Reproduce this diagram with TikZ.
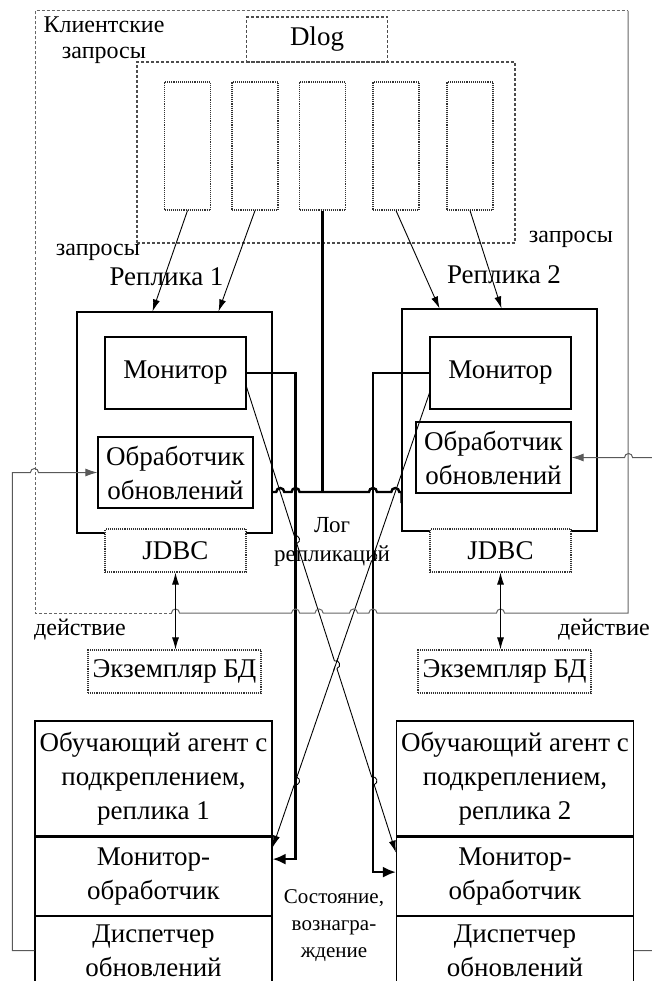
\documentclass[tikz,border=0pt]{standalone}
\usepackage{fontspec}
\setmainfont{Liberation Serif}
\usetikzlibrary{arrows.meta,positioning,calc,intersections}

\begin{document}
\begin{tikzpicture}[
    x=1pt, y=-1pt,
    % Block styles
    block/.style={
        rectangle,
        draw,
        line width=1.1pt,
        inner sep=0pt,
        align=center,
        font=\fontsize{27}{34}\selectfont
    },
    dotblock/.style={block, draw=black!80, densely dotted, fill=white},
    dashblock/.style={block, draw=black!70, dash pattern=on 3pt off 2pt},
    note/.style={font=\fontsize{24}{26}\selectfont, align=center},
    heading/.style={font=\fontsize{27}{34}\selectfont},
    % Line styles
    reqline/.style={line width=0.9pt, -{Latex[length=12pt,width=7pt]}},
    dbline/.style={line width=0.9pt, {Latex[length=12pt,width=7pt]}-{Latex[length=12pt,width=7pt]}},
    logline/.style={line width=2.4pt},
    stateline/.style={line width=2.4pt, -{Latex[length=13pt,width=11pt]}},
    backline/.style={draw=black!65, line width=1pt, -{Latex[length=12pt,width=8pt]}},
    frameline/.style={draw=black!60, line width=1pt}
]

\useasboundingbox (0,0) rectangle (651,981);

% Dlog and request queue
\node[dashblock, minimum width=141, minimum height=45] (dlog) at (317,39.5) {Dlog};
\node[dashblock, minimum width=378, minimum height=181] (queue) at (326,152.5) {};
\foreach \i/\x in {1/187.5, 2/255, 3/322.5, 4/396, 5/470}
    \node[dotblock, minimum width=46, minimum height=128] (q\i) at (\x,146) {};

% Replica 1
\node[block, minimum width=195, minimum height=221] (rep1) at (174.5,422.5) {};
\node[block, minimum width=141, minimum height=72] (mon1) at (175.5,373) {Монитор};
\node[block, minimum width=155, minimum height=71] (upd1) at (175.5,472.5) {Обработчик\\обновлений};
\node[dotblock, minimum width=141, minimum height=43] (jdbc1) at (175.5,550.5) {JDBC};

% Replica 2
\node[block, minimum width=195, minimum height=222] (rep2) at (499.5,420) {};
\node[block, minimum width=141, minimum height=72] (mon2) at (500.5,373) {Монитор};
\node[block, minimum width=155, minimum height=71] (upd2) at (493.5,457.5) {Обработчик\\обновлений};
\node[dotblock, minimum width=141, minimum height=43] (jdbc2) at (500.5,550.5) {JDBC};

% Database instances
\node[dotblock, minimum width=173, minimum height=43] (db1) at (174.5,671.5) {Экземпляр БД};
\node[dotblock, minimum width=173, minimum height=43] (db2) at (504.5,671.5) {Экземпляр БД};

% RL agents
\node[block, minimum width=237, minimum height=115] (agent1) at (153.5,778.5) {Обучающий агент с\\подкреплением,\\реплика 1};
\node[block, minimum width=237, minimum height=78, below=0pt of agent1] (mo1) {Монитор-\\обработчик};
\node[block, minimum width=237, minimum height=69, below=0pt of mo1] (disp1) {Диспетчер\\обновлений};

\node[block, minimum width=237, minimum height=115] (agent2) at (515,778.5) {Обучающий агент с\\подкреплением,\\реплика 2};
\node[block, minimum width=237, minimum height=78, below=0pt of agent2] (mo2) {Монитор-\\обработчик};
\node[block, minimum width=237, minimum height=69, below=0pt of mo2] (disp2) {Диспетчер\\обновлений};

% Helper coordinates
\coordinate (frameNW) at (35,11);
\coordinate (frameSE) at (628,613);
\coordinate (busL) at ($(rep1.east)+(0,69.5)$);
\coordinate (busR) at ($(rep2.west)+(0,72)$);
\coordinate (fD1) at (jdbc1.south |- frameSE);
\coordinate (fD2) at (jdbc2.south |- frameSE);
\coordinate (a0) at ($(mon1.east)+(0,14)$);
\coordinate (a1) at ($(mo2.north west)+(0,16)$);
\coordinate (b0) at ($(mon2.west)+(0,20)$);
\coordinate (b1) at ($(mo1.north east)+(0,11)$);

% Paths used for crossings
\path[name path=statepath1] (mon1.east) -| ($(mo1.east)+(23,-17)$) -- ($(mo1.east)+(0,-17)$);
\path[name path=statepath2] (mon2.west) -| ($(mo2.west)+(-23,-4)$) -- ($(mo2.west)+(0,-4)$);
\path[name path=framebottom] (frameNW |- frameSE) -- (frameSE);
\path[name path=busline] (busL) -- (busR);

% Monitor to agent (thin, crossed)
\draw[reqline, name path=diagA] (a0) -- (a1);
\draw[reqline, name path=diagB] (b0) -- (b1);

\path[name intersections={of=diagA and statepath1, by=ia1}];
\path[name intersections={of=diagA and statepath2, by=ia2}];
\path[name intersections={of=diagB and statepath1, by=ib1}];
\path[name intersections={of=diagB and statepath2, by=ib2}];
\path[name intersections={of=diagA and diagB, by=iab}];
\path[name intersections={of=busline and diagA, by=bA}];
\path[name intersections={of=busline and diagB, by=bB}];
\path[name intersections={of=busline and statepath1, by=bs1}];
\path[name intersections={of=busline and statepath2, by=bs2}];
\path[name intersections={of=framebottom and diagA, by=fA}];
\path[name intersections={of=framebottom and diagB, by=fB}];
\path[name intersections={of=framebottom and statepath1, by=fs1}];
\path[name intersections={of=framebottom and statepath2, by=fs2}];

% Hops on the thin lines
\foreach \p/\s/\e in {ia1/a0/a1, ia2/a0/a1, ib1/b0/b1, ib2/b0/b1, iab/a0/a1} {
    \draw[white, line width=3pt] ($(\p)!4pt!(\s)$) -- ($(\p)!4pt!(\e)$);
    \draw[line width=0.9pt] ($(\p)!4pt!(\s)$) to[bend left=90, looseness=1.7] ($(\p)!4pt!(\e)$);
}
\draw[line width=0.9pt] ($(iab)!7pt!(b0)$) -- ($(iab)!7pt!(b1)$);

% State / reward lines
\draw[stateline] (mon1.east) -| ($(mo1.east)+(23,-17)$) -- ($(mo1.east)+(0,-17)$);
\draw[stateline] (mon2.west) -| ($(mo2.west)+(-23,-4)$) -- ($(mo2.west)+(0,-4)$);

% Replication log bus
\draw[logline] (q3.south) -- (q3.south |- busL);
\draw[logline] (busL) -- ($(bA)+(-4,0)$) arc (180:360:4)
    -- ($(bs1)+(-4,0)$) arc (180:360:4)
    -- ($(bs2)+(-4,0)$) arc (180:360:4)
    -- ($(bB)+(-4,0)$) arc (180:360:4)
    -- (busR) -- ++(0,11);

% Outer frame
\draw[frameline] (frameSE |- frameNW) -- (frameSE)
    -- ($(fD2)+(4,0)$) arc (0:-180:4)
    -- ($(fs2)+(4,0)$) arc (0:-180:4)
    -- ($(fB)+(4,0)$) arc (0:-180:4)
    -- ($(fA)+(4,0)$) arc (0:-180:4)
    -- ($(fs1)+(4,0)$) arc (0:-180:4)
    -- ($(fD1)+(4,0)$) arc (0:-180:4);
\draw[frameline, dash pattern=on 3pt off 2pt] ($(fD1)+(-4,0)$) -- (frameNW |- frameSE) -- (frameNW) -- (frameSE |- frameNW);

% Client requests
\draw[reqline] (q1.south) -- ($(rep1.north)+(-22,0)$);
\draw[reqline] (q2.south) -- ($(rep1.north)+(44,0)$);
\draw[reqline] (q4.south) -- ($(rep2.north)+(-60,0)$);
\draw[reqline] (q5.south) -- ($(rep2.north)+(2,0)$);

% Actions on the databases
\draw[dbline] (jdbc1.south) -- (jdbc1.south |- db1.north);
\draw[dbline] (jdbc2.south) -- (jdbc2.south |- db2.north);

% Update feedback
\draw[backline] (disp1.west) -- ++(-22,0) |- ($(upd1.west)+(-67,0)$) arc (180:360:4) -- (upd1.west);
\draw[backline] (disp2.east) -- ++(30,0) |- ($(upd2.east)+(61,0)$) arc (0:-180:4) -- (upd2.east);

% Labels
\node[note] (clients) at (104,40) {Клиентские\\запросы};
\node[note] (req1) at (98,252) {запросы};
\node[note] (req2) at (571,239) {запросы};
\node[heading] (rep1name) at (166.5,277) {Реплика 1};
\node[heading] (rep2name) at (504,275) {Реплика 2};
\node[note, font=\fontsize{23}{29}\selectfont] (loglabel) at (332,542) {Лог\\репликаций};
\node[note] (act1) at (80,630) {действие};
\node[note] (act2) at (604,630) {действие};
\node[note, font=\fontsize{21}{27}\selectfont] (state) at (334,926) {Состояние,\\вознагра-\\ждение};

\end{tikzpicture}
\end{document}
